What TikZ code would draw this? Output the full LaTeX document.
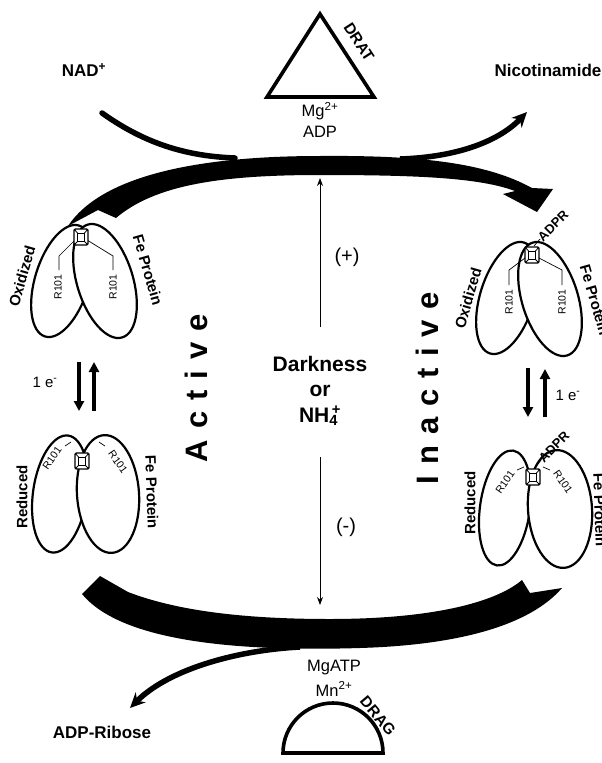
\documentclass[tikz,border=0pt]{standalone}
\usepackage{fontspec}
\setmainfont{Liberation Sans}
\usetikzlibrary{arrows.meta}
\newcommand{\stgap}{\kern11pt }
\tikzset{
  cluster/.pic={
    \fill[white] (-7,-8) rectangle (7,8);
    \draw[line width=1.1pt, rounded corners=1.5pt] (-7,-8) rectangle (7,8);
    \draw[line width=0.8pt] (-3.5,-4) rectangle (3.5,4.5);
    \draw[line width=0.8pt] (-7,-8) -- (-3.5,-4) (7,-8) -- (3.5,-4)
                            (-7,8) -- (-3.5,4.5) (7,8) -- (3.5,4.5);
  }
}
\begin{document}
\begin{tikzpicture}[x=1pt,y=-1pt,
  every node/.style={inner sep=0pt,outer sep=0pt},
  metab/.style={font=\fontsize{17}{17}\selectfont\bfseries},
  cofac/.style={font=\fontsize{16.5}{17}\selectfont},
  middle/.style={font=\fontsize{21}{21}\selectfont\bfseries},
  sign/.style={font=\fontsize{20}{20}\selectfont},
  tag/.style={font=\fontsize{15}{16}\selectfont\bfseries},
  adpr/.style={font=\fontsize{13}{13}\selectfont\bfseries},
  resid/.style={font=\fontsize{10.5}{11}\selectfont},
  electron/.style={font=\fontsize{15}{15}\selectfont},
  statelab/.style={font=\fontsize{31}{31}\selectfont\bfseries},
  enzlab/.style={font=\fontsize{15.5}{16}\selectfont\bfseries},
  lobe/.style={draw,line width=2.2pt,fill=white},
  leader/.style={line width=0.7pt},
  enzyme/.style={draw,line width=3.6pt,line join=miter},
  branch/.style={line width=5.5pt},
  redox/.style={line width=3.6pt,-{Triangle[length=10pt,width=10pt]}},
  signal/.style={line width=0.9pt,-{Stealth[length=8pt,width=6pt]}}
]
\useasboundingbox (0,0) rectangle (602,763);

% ---- upper crescent: ADP-ribosylation (DRAT) ----
\fill (68,226) .. controls (100,178) and (190,156) .. (320,156)
  .. controls (430,155) and (490,165) .. (532,188)
  -- (553,189) -- (537,212) -- (503,194) -- (515,191)
  .. controls (480,178) and (420,175) .. (320,175)
  .. controls (220,175) and (155,185) .. (116,218)
  -- (98,210) -- cycle;

% ---- lower crescent: release of ADP-ribose (DRAG) ----
\fill (82,594) -- (100,576) -- (128,592)
  .. controls (180,612) and (250,619) .. (330,619)
  .. controls (430,619) and (495,603) .. (522,580)
  -- (530,593) -- (562,588)
  .. controls (530,625) and (460,645) .. (360,648)
  .. controls (230,652) and (120,640) .. (82,594) -- cycle;

% ---- substrates and products ----
\node[metab] (nad) at (84,70) {NAD\textsuperscript{+}};
\node[metab] (nic) at (548,70) {Nicotinamide};
\node[metab] (adpr) at (102,732) {ADP-Ribose};

\coordinate (nadStart) at (102,113);
\coordinate (nadJoin) at (235,158);
\draw[branch,line cap=round] (nadStart) .. controls (140,140) and (180,156) .. (nadJoin);
\coordinate (nicJoin) at (400,159);
\coordinate (nicTip) at (527,112);
\draw[branch,-{Stealth[length=15pt,width=14pt]}] (nicJoin) .. controls (460,157) and (500,140) .. (nicTip);
\coordinate (adpJoin) at (300,647);
\coordinate (adpTip) at (130,708);
\draw[branch,-{Stealth[length=15pt,width=14pt]}] (adpJoin) .. controls (240,650) and (170,668) .. (adpTip);

% ---- enzymes ----
\coordinate (dratTop) at (320,14);
\coordinate (dratR) at (374,97);
\coordinate (dratL) at (267,97);
\draw[enzyme] (dratTop) -- (dratR) -- (dratL) -- cycle;
\node[enzlab,rotate=-57] (drat) at (359,42) {DRAT};
\node[cofac] (mg) at (320,111) {Mg\textsuperscript{2+}};
\node[cofac] (adp) at (320,132) {ADP};

\draw[enzyme] (283,753) arc[start angle=180,end angle=360,radius=50] -- cycle;
\node[enzlab,rotate=-50] (drag) at (378,716) {DRAG};
\node[cofac] (mgatp) at (334,668) {MgATP};
\node[cofac] (mn) at (334,689) {Mn\textsuperscript{2+}};

% ---- regulation ----
\node[middle] (dark) at (320,364) {Darkness};
\node[middle] (or) at (320,391) {or};
\node[middle] (nh4) at (320,416) {NH\rlap{\textsubscript{4}}\textsuperscript{\,+}};
\coordinate (upFrom) at (320,327);
\coordinate (upTo) at (320,178);
\coordinate (dnFrom) at (320,457);
\coordinate (dnTo) at (320,605);
\draw[signal] (upFrom) -- (upTo);
\draw[signal] (dnFrom) -- (dnTo);
\node[sign] (plus) at (347,257) {(+)};
\node[sign] (minus) at (346,527) {(-)};

\node[statelab,rotate=90] (active) at (196,388) {A\stgap c\stgap t\stgap i\stgap v\stgap e};
\node[statelab,rotate=90] (inactive) at (427,388) {I\stgap n\stgap a\stgap c\stgap t\stgap i\stgap v\stgap e};

% ---- Fe protein, active, oxidized ----
\draw[lobe,rotate around={-17:(62,281)}] (62,281) ellipse [x radius=27,y radius=58];
\draw[lobe,rotate around={17:(105,281)}] (105,281) ellipse [x radius=28,y radius=59];
\draw[leader] (59,270) -- (59,256) -- (75,240);
\draw[leader] (113,270) -- (113,256) -- (87,240);
\pic (clA) at (81,237) {cluster};
\node[resid,rotate=90] (rA1) at (58,287) {R101};
\node[resid,rotate=90] (rA2) at (113,287) {R101};
\node[tag,rotate=74] (oxA) at (22,276) {Oxidized};
\node[tag,rotate=-74] (feA) at (148,270) {Fe Protein};

% ---- Fe protein, active, reduced ----
\draw[lobe,rotate around={-8:(60,494)}] (60,494) ellipse [x radius=27,y radius=59];
\draw[lobe,rotate around={4:(108,494)}] (108,494) ellipse [x radius=31,y radius=59];
\pic (clB) at (82,461) {cluster};
\node[resid,rotate=55] (rB1) at (52,458) {R101};
\node[resid,rotate=-55] (rB2) at (118,462) {R101};
\draw[leader] (65,446) -- (71,442);
\draw[leader] (99,442) -- (105,446);
\node[tag,rotate=90] (redB) at (22,497) {Reduced};
\node[tag,rotate=-88] (feB) at (152,492) {Fe Protein};

% ---- electron transfer, active ----
\coordinate (eA1) at (79,362);
\coordinate (eA2) at (79,411);
\coordinate (eA3) at (94,411);
\coordinate (eA4) at (94,362);
\draw[redox] (eA1) -- (eA2);
\draw[redox] (eA3) -- (eA4);
\node[electron] (elA) at (45,382) {1 e\textsuperscript{-}};

% ---- Fe protein, inactive, oxidized ----
\draw[lobe,rotate around={-17:(507,298)}] (507,298) ellipse [x radius=27,y radius=58];
\draw[lobe,rotate around={17:(550,299)}] (550,299) ellipse [x radius=28,y radius=59];
\draw[leader] (509,285) -- (509,270) -- (525,258);
\draw[leader] (562,285) -- (562,270) -- (539,258);
\pic (clC) at (532,255) {cluster};
\draw[leader] (534,246) -- (540,239);
\node[adpr,rotate=45,anchor=west] (adprC) at (540,239) {ADPR};
\node[resid,rotate=90] (rC1) at (509,302) {R101};
\node[resid,rotate=90] (rC2) at (562,302) {R101};
\node[tag,rotate=74] (oxC) at (468,298) {Oxidized};
\node[tag,rotate=-74] (feC) at (595,300) {Fe Protein};

% ---- Fe protein, inactive, reduced ----
\draw[lobe,rotate around={-8:(505,508)}] (505,508) ellipse [x radius=25,y radius=58];
\draw[lobe,rotate around={4:(560,509)}] (560,509) ellipse [x radius=32,y radius=59];
\pic (clD) at (533,477) {cluster};
\draw[leader] (535,468) -- (541,460);
\node[adpr,rotate=45,anchor=west] (adprD) at (541,460) {ADPR};
\node[resid,rotate=55] (rD1) at (505,482) {R101};
\node[resid,rotate=-55] (rD2) at (563,482) {R101};
\draw[leader] (517,470) -- (524,467);
\draw[leader] (543,467) -- (550,470);
\node[tag,rotate=90] (redD) at (470,503) {Reduced};
\node[tag,rotate=-88] (feD) at (600,510) {Fe Protein};

% ---- electron transfer, inactive ----
\coordinate (eC1) at (528,368);
\coordinate (eC2) at (528,417);
\coordinate (eC3) at (545,417);
\coordinate (eC4) at (545,369);
\draw[redox] (eC1) -- (eC2);
\draw[redox] (eC3) -- (eC4);
\node[electron] (elC) at (568,395) {1 e\textsuperscript{-}};
\end{tikzpicture}
\end{document}
